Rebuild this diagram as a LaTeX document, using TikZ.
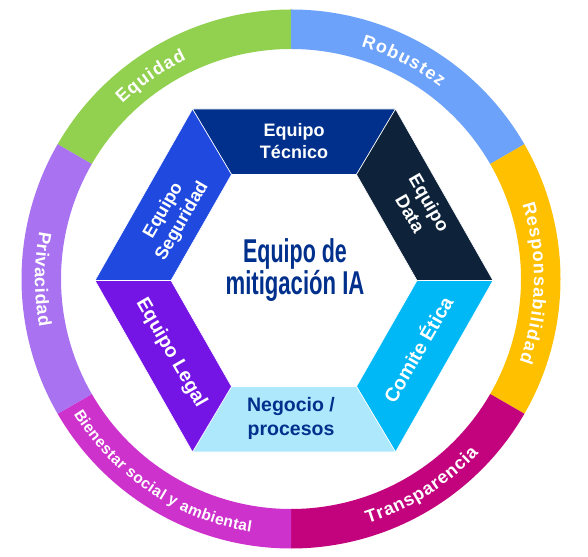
\documentclass[tikz,border=0pt]{standalone}
\usepackage{fontspec}
\setmainfont{Liberation Sans}
\usetikzlibrary{decorations.text}

% ring colours
\definecolor{cEquidad}{RGB}{146,208,80}
\definecolor{cRobustez}{RGB}{108,162,250}
\definecolor{cResp}{RGB}{255,192,0}
\definecolor{cTransp}{RGB}{195,3,125}
\definecolor{cBien}{RGB}{205,50,205}
\definecolor{cPriv}{RGB}{168,114,240}
% team colours
\definecolor{cTecnico}{RGB}{0,48,140}
\definecolor{cData}{RGB}{14,35,58}
\definecolor{cSeg}{RGB}{32,73,224}
\definecolor{cLegal}{RGB}{116,21,230}
\definecolor{cComite}{RGB}{0,184,245}
\definecolor{cNegocio}{RGB}{173,232,253}
\definecolor{cNavy}{RGB}{0,48,140}

\tikzset{
  hexseg/.style={draw=white, line width=0.6pt, line join=miter},
  teamlabel/.style={text=white, font=\bfseries\fontsize{18}{21.5}\selectfont, align=center, inner sep=0pt},
  bigteam/.style={font=\bfseries\fontsize{19.5}{24}\selectfont},
  ringlabel/.style n args={3}{font=\bfseries\fontsize{#1}{#1}\selectfont,
    decorate, decoration={text effects along path,
      text={#3}, text align=center,
      text effects/.cd, text along path,
      characters={text=white, font=\bfseries\fontsize{#1}{#1}\selectfont, inner xsep=#2},
      character widths={font=\bfseries\fontsize{#1}{#1}\selectfont, inner xsep=#2}}}
}

\begin{document}
\begin{tikzpicture}[x=1pt,y=1pt]
\useasboundingbox (0,0) rectangle (588,556);

% outer ring of principles
\begin{scope}[shift={(291,277)}]
  \foreach \s/\e/\c in {90/150/cEquidad, 30/90/cRobustez, -30/30/cResp,
                        -90/-30/cTransp, -150/-90/cBien, 150/210/cPriv}
    \fill[\c] (\s:269.5) arc[start angle=\s, end angle=\e, radius=269.5]
              -- (\e:230) arc[start angle=\e, end angle=\s, radius=230] -- cycle;

  % labels with tops facing outwards (clockwise paths)
  \path[ringlabel={18}{0.6pt}{Equidad}] (154.7:243) arc[start angle=154.7, end angle=94.7, radius=243];
  \path[ringlabel={18}{0.6pt}{Robustez}] (92.7:243) arc[start angle=92.7, end angle=32.7, radius=243];
  \path[ringlabel={18}{0.6pt}{Responsabilidad}] (44:243) arc[start angle=44, end angle=-46, radius=243];
  % labels with tops facing inwards (counter-clockwise paths)
  \path[ringlabel={18}{0.4pt}{Transparencia}] (270.3:256) arc[start angle=270.3, end angle=334.3, radius=256];
  \path[ringlabel={15.5}{0.2pt}{Bienestar social y ambiental}] (203.4:256) arc[start angle=203.4, end angle=269.4, radius=256];
  \path[ringlabel={18}{0.3pt}{Privacidad}] (150:256) arc[start angle=150, end angle=210, radius=256];
\end{scope}

% hexagon of teams
\begin{scope}[shift={(294,275.5)}]
  \coordinate (oR)  at (199,0);
  \coordinate (oTR) at (101.5,171.5);
  \coordinate (oTL) at (-101.5,171.5);
  \coordinate (oL)  at (-199,0);
  \coordinate (oBL) at (-101.5,-171.5);
  \coordinate (oBR) at (101.5,-171.5);
  \coordinate (iR)  at (123,0);
  \coordinate (iTR) at (62.5,106);
  \coordinate (iTL) at (-62.5,106);
  \coordinate (iL)  at (-123,0);
  \coordinate (iBL) at (-62.5,-106);
  \coordinate (iBR) at (62.5,-106);

  \filldraw[hexseg, fill=cTecnico] (oTL) -- (oTR) -- (iTR) -- (iTL) -- cycle;
  \filldraw[hexseg, fill=cData]    (oTR) -- (oR)  -- (iR)  -- (iTR) -- cycle;
  \filldraw[hexseg, fill=cComite]  (oR)  -- (oBR) -- (iBR) -- (iR)  -- cycle;
  \filldraw[hexseg, fill=cNegocio] (oBR) -- (oBL) -- (iBL) -- (iBR) -- cycle;
  \filldraw[hexseg, fill=cLegal]   (oBL) -- (oL)  -- (iL)  -- (iBL) -- cycle;
  \filldraw[hexseg, fill=cSeg]     (oL)  -- (oTL) -- (iTL) -- (iL)  -- cycle;
\end{scope}

% team labels
\node[teamlabel] (tecnico) at (294,415) {Equipo\\Técnico};
\node[teamlabel, font=\bfseries\fontsize{18.5}{22}\selectfont, rotate=-60] (data) at (420,348) {Equipo\\Data};
\node[teamlabel, rotate=60] (seguridad) at (173,340) {Equipo\\Seguridad};
\node[teamlabel, bigteam, rotate=60] (comite) at (417,207) {Comite Ética};
\node[teamlabel, bigteam, rotate=-60] (legal) at (171,203) {Equipo Legal};
\node[teamlabel, bigteam, text=cNavy] (negocio) at (291,138) {Negocio /\\procesos};

% central title
\node[text=cNavy, font=\bfseries\fontsize{33}{30}\selectfont, align=center, inner sep=0pt] (centro) at (295,286)
  {\scalebox{0.65}[1]{Equipo de}\\\scalebox{0.67}[1]{mitigación IA}};
\end{tikzpicture}
\end{document}
